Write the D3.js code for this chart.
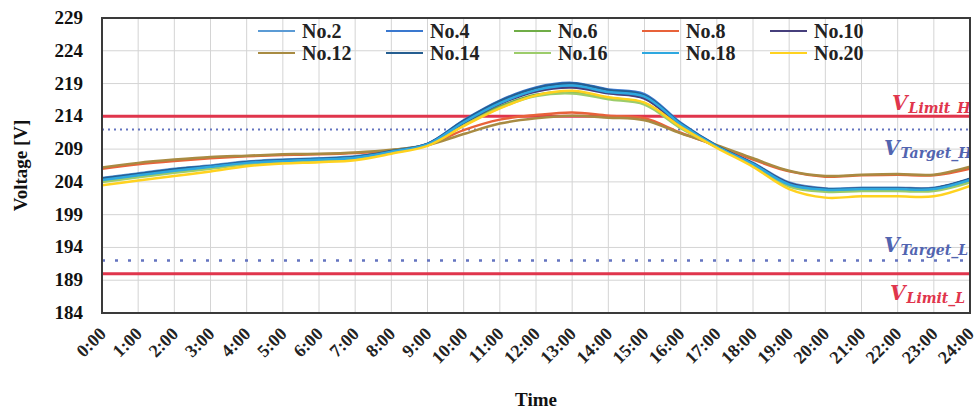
<!DOCTYPE html>
<html>
<head>
<meta charset="utf-8">
<script src="https://cdn.jsdelivr.net/npm/d3@7"></script>
<style>
  body { margin: 0; background: #fff; }
  text { font-family: "Liberation Serif", "Times New Roman", serif; font-weight: bold; }
</style>
</head>
<body>
<div id="chart"></div>
<script>
// hours 0:00 .. 24:00
var hours = d3.range(0, 25);
var hourLabels = hours.map(function (h) { return h + ":00"; });
var yTicks = [184, 189, 194, 199, 204, 209, 214, 219, 224, 229];

var seriesNames = ["No.2", "No.4", "No.6", "No.8", "No.10", "No.12", "No.14", "No.16", "No.18", "No.20"];
var seriesColors = ["#5b9bd5", "#3a78cf", "#70ad47", "#e8623a", "#463f7c", "#a88b42", "#255e91", "#9ccc6a", "#2ea8e0", "#ffd21f"];

var no2  = [204.6,205.3,206.0,206.5,207.1,207.4,207.6,207.9,208.8,209.8,213.1,216.0,217.9,218.5,217.6,216.8,212.7,209.4,206.9,203.9,203.0,203.1,203.1,203.1,204.5];
var no4  = [204.5,205.2,205.9,206.4,207.0,207.3,207.5,207.8,208.7,209.8,213.4,216.4,218.4,219.1,218.1,217.4,213.0,209.5,206.8,203.7,202.8,202.9,202.9,202.9,204.4];
var no6  = [204.2,204.9,205.6,206.2,206.8,207.2,207.4,207.7,208.6,209.7,212.8,215.5,217.3,217.7,216.8,216.0,212.3,209.3,206.6,203.4,202.7,202.8,202.8,202.8,204.1];
var no8  = [206.0,206.7,207.2,207.6,207.9,208.1,208.2,208.4,208.8,209.6,211.9,213.5,214.2,214.6,214.1,213.7,211.5,209.5,207.4,205.6,204.8,205.0,205.1,205.0,206.0];
var no10 = [204.4,205.1,205.8,206.3,206.9,207.2,207.4,207.7,208.6,209.7,213.0,215.9,217.8,218.4,217.5,216.7,212.6,209.4,206.8,203.8,202.9,203.0,203.0,203.0,204.4];
var no12 = [206.2,206.9,207.4,207.8,208.0,208.2,208.3,208.5,208.9,209.6,211.3,212.9,213.7,214.1,213.8,213.4,211.4,209.6,207.6,205.7,204.9,205.1,205.2,205.1,206.3];
var no14 = [204.5,205.2,205.9,206.4,207.0,207.3,207.5,207.8,208.7,209.8,213.3,216.3,218.3,219.0,218.0,217.2,212.9,209.5,206.8,203.7,202.9,203.0,203.0,203.0,204.4];
var no16 = [204.0,204.7,205.4,206.0,206.7,207.1,207.3,207.6,208.5,209.6,212.6,215.3,217.1,217.5,216.6,215.8,212.2,209.3,206.5,203.3,202.5,202.6,202.6,202.6,203.9];
var no18 = [204.3,205.0,205.7,206.3,206.9,207.2,207.4,207.7,208.6,209.7,213.1,216.0,218.0,218.7,217.7,217.0,212.8,209.4,206.7,203.6,202.8,202.9,202.9,202.9,204.3];
var no20 = [203.5,204.2,204.9,205.6,206.4,206.8,207.0,207.3,208.3,209.5,212.5,215.2,217.2,217.9,216.9,216.1,212.4,209.2,206.3,202.9,201.6,201.8,201.8,201.8,203.4];
var seriesValues = [no2, no4, no6, no8, no10, no12, no14, no16, no18, no20];

// limits and targets
var limitH = 214, targetH = 212, targetL = 192, limitL = 190;

var width = 977, height = 415;
var plotL = 102, plotR = 970, plotT = 18, plotB = 313;

var svg = d3.select('#chart')
    .append('svg')
    .attr('width', width)
    .attr('height', height);

var x = d3.scaleLinear().domain([0, 24]).range([plotL, plotR]);
var y = d3.scaleLinear().domain([184, 229]).range([plotB, plotT]);

svg.append('clipPath').attr('id', 'plotclip')
    .append('rect')
    .attr('x', plotL).attr('y', plotT)
    .attr('width', plotR - plotL).attr('height', plotB - plotT);

// gridlines
svg.append('g')
    .selectAll('line')
    .data(hours)
    .enter()
    .append('line')
    .attr('x1', function (d) { return x(d); })
    .attr('x2', function (d) { return x(d); })
    .attr('y1', plotT).attr('y2', plotB)
    .attr('stroke', '#d4d4d4').attr('stroke-width', 1);

svg.append('g')
    .selectAll('line')
    .data(yTicks)
    .enter()
    .append('line')
    .attr('x1', plotL).attr('x2', plotR)
    .attr('y1', function (d) { return y(d); })
    .attr('y2', function (d) { return y(d); })
    .attr('stroke', '#d4d4d4').attr('stroke-width', 1);

var plot = svg.append('g').attr('clip-path', 'url(#plotclip)');

// reference lines
plot.append('line')
    .attr('x1', plotL).attr('x2', plotR)
    .attr('y1', y(limitH)).attr('y2', y(limitH))
    .attr('stroke', '#e0354c').attr('stroke-width', 3);
plot.append('line')
    .attr('x1', plotL).attr('x2', plotR)
    .attr('y1', y(limitL)).attr('y2', y(limitL))
    .attr('stroke', '#e0354c').attr('stroke-width', 3);
plot.append('line')
    .attr('x1', plotL).attr('x2', plotR)
    .attr('y1', y(targetH)).attr('y2', y(targetH))
    .attr('stroke', '#6474c0').attr('stroke-width', 2)
    .attr('stroke-dasharray', '2,4');
plot.append('line')
    .attr('x1', plotL).attr('x2', plotR)
    .attr('y1', y(targetL)).attr('y2', y(targetL))
    .attr('stroke', '#6474c0').attr('stroke-width', 2.5)
    .attr('stroke-dasharray', '3,10');

// series
var line = d3.line()
    .x(function (d, i) { return x(hours[i]); })
    .y(function (d) { return y(d); })
    .curve(d3.curveCatmullRom.alpha(0.5));

plot.selectAll('path.series')
    .data(seriesValues)
    .enter()
    .append('path')
    .attr('class', 'series')
    .attr('fill', 'none')
    .attr('stroke', function (d, i) { return seriesColors[i]; })
    .attr('stroke-width', 2.5)
    .attr('d', line);

// limit labels (clipped at the plot edge, as in the original)
function refLabel(tx, ty, sub, color) {
    var t = plot.append('text')
        .attr('x', tx).attr('y', ty)
        .attr('fill', color)
        .style('font-family', '"DejaVu Serif", serif')
        .style('font-style', 'italic');
    t.append('tspan').style('font-size', '20px').text('V');
    t.append('tspan').style('font-size', '14px').attr('dy', 3).attr('dx', 1).text(sub);
}
refLabel(892, 110, 'Limit_H', '#e0354c');
refLabel(884, 155, 'Target_H', '#5264b0');
refLabel(884, 252, 'Target_L', '#5264b0');
refLabel(890, 300, 'Limit_L', '#e0354c');

// plot border
svg.append('rect')
    .attr('x', plotL).attr('y', plotT)
    .attr('width', plotR - plotL).attr('height', plotB - plotT)
    .attr('fill', 'none')
    .attr('stroke', '#3a3a3a').attr('stroke-width', 2);

// y axis labels
svg.append('g')
    .selectAll('text')
    .data(yTicks)
    .enter()
    .append('text')
    .attr('x', 83)
    .attr('y', function (d) { return y(d) + 6; })
    .attr('text-anchor', 'end')
    .style('font-size', '19px')
    .attr('fill', '#111')
    .text(function (d) { return d; });

// x axis labels
svg.append('g')
    .selectAll('text')
    .data(hours)
    .enter()
    .append('text')
    .attr('transform', function (d) { return 'translate(' + (x(d) + 5) + ',335) rotate(-45)'; })
    .attr('text-anchor', 'end')
    .style('font-size', '18px')
    .attr('fill', '#222')
    .text(function (d, i) { return hourLabels[i]; });

// axis titles
svg.append('text')
    .attr('x', (plotL + plotR) / 2).attr('y', 406)
    .attr('text-anchor', 'middle')
    .style('font-size', '19px')
    .attr('fill', '#111')
    .text('Time');

svg.append('text')
    .attr('transform', 'translate(27,' + ((plotT + plotB) / 2) + ') rotate(-90)')
    .attr('text-anchor', 'middle')
    .style('font-size', '19px')
    .attr('fill', '#111')
    .text('Voltage [V]');

// legend
var legendX = [258, 386, 514, 642, 770];
var legendY = [31, 53];
var legend = svg.append('g')
    .selectAll('g')
    .data(seriesNames)
    .enter()
    .append('g')
    .attr('transform', function (d, i) { return 'translate(' + legendX[i % 5] + ',' + legendY[Math.floor(i / 5)] + ')'; });

legend.append('line')
    .attr('x1', 0).attr('x2', 37)
    .attr('stroke', function (d, i) { return seriesColors[i]; })
    .attr('stroke-width', 2);

legend.append('text')
    .attr('x', 44).attr('y', 7)
    .style('font-size', '20px')
    .attr('fill', '#222')
    .text(function (d) { return d; });
</script>
</body>
</html>
